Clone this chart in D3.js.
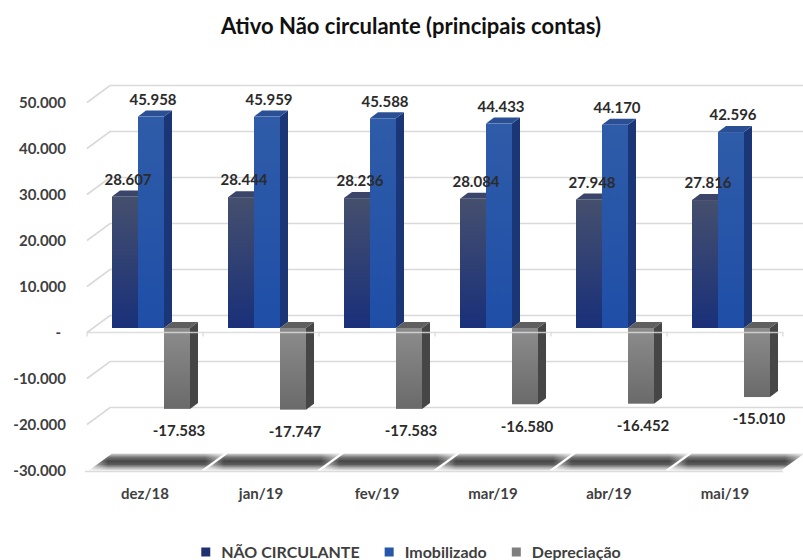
<!DOCTYPE html>
<html>
<head>
<meta charset="utf-8">
<script src="https://cdn.jsdelivr.net/npm/d3@7"></script>
<style>
  body { margin: 0; background: #fff; }
  svg { display: block; }
</style>
</head>
<body>
<div class="chart"></div>
<script>
// Dados
const categories = ["dez/18", "jan/19", "fev/19", "mar/19", "abr/19", "mai/19"];
const naoCirculante = [28607, 28444, 28236, 28084, 27948, 27816];
const imobilizado = [45958, 45959, 45588, 44433, 44170, 42596];
const depreciacao = [-17583, -17747, -17583, -16580, -16452, -15010];
const seriesNames = ["NÃO CIRCULANTE", "Imobilizado", "Depreciação"];
const yTicks = [50000, 40000, 30000, 20000, 10000, 0, -10000, -20000, -30000];

// Parâmetros
const width = 803;
const height = 560;
const font = "Lato, 'Open Sans', sans-serif";
const wall = { dx: 23, dy: 17 };        // parede do fundo -> borda da frente
const barShift = { dx: -16, dy: 12.5 }; // parede do fundo -> face frontal das barras
const barDepth = { dx: 8, dy: -6 };

const styles = [
  { top: "#3a4569", side: "#1b2752", g0: "#454f6d", g1: "#19307a", key: "#1f3170" },
  { top: "#2a4f95", side: "#1b3677", g0: "#2f5ca8", g1: "#1f4ea8", key: "#2556a8" },
  { top: "#5f5f5f", side: "#464646", g0: "#8c8c8c", g1: "#6a6a6a", key: "#7f7f7f" }
];

const locale = d3.formatLocale({ decimal: ",", thousands: ".", grouping: [3], currency: ["R$", ""], minus: "-" });
const fmt = locale.format(",.0f");

const table = categories.map((c, i) => ({
  cat: c,
  values: [naoCirculante[i], imobilizado[i], depreciacao[i]]
}));

const svg = d3.select(".chart")
  .append("svg")
  .attr("width", width)
  .attr("height", height)
  .style("font-family", font);

const y = d3.scaleLinear().domain([-30000, 50000]).range([453.5, 85.5]);
const x = d3.scaleBand().domain(categories).range([110, 806]);
const xs = d3.scaleBand().domain(seriesNames).range([18, 96]);
const step = x.step();

// gradientes
const defs = svg.append("defs");
styles.forEach((s, i) => {
  const g = defs.append("linearGradient").attr("id", "g" + i)
    .attr("x1", 0).attr("y1", 0).attr("x2", 0).attr("y2", 1);
  g.append("stop").attr("offset", "0%").attr("stop-color", s.g0);
  g.append("stop").attr("offset", "100%").attr("stop-color", s.g1);
});
const fg = defs.append("linearGradient").attr("id", "floor")
  .attr("x1", 0).attr("y1", 0).attr("x2", 0).attr("y2", 1);
[["0%", "#d8d8d8"], ["22%", "#767676"], ["45%", "#464646"], ["65%", "#5c5c5c"], ["85%", "#b4b4b4"], ["100%", "#e8e8e8"]]
  .forEach(d => fg.append("stop").attr("offset", d[0]).attr("stop-color", d[1]));
const fh = defs.append("linearGradient").attr("id", "floorH")
  .attr("x1", 0).attr("y1", 0).attr("x2", 1).attr("y2", 0);
[["0%", 0.7], ["14%", 0], ["86%", 0], ["100%", 0.6]]
  .forEach(d => fh.append("stop").attr("offset", d[0]).attr("stop-color", "#fff").attr("stop-opacity", d[1]));

// título
svg.append("text")
  .attr("x", 411)
  .attr("y", 34)
  .attr("text-anchor", "middle")
  .style("font-size", "22px")
  .style("font-weight", "bold")
  .style("fill", "#111")
  .text("Ativo Não circulante (principais contas)");

// linhas de grade
const x0 = x.range()[0];
svg.append("g")
  .selectAll("path")
  .data(yTicks.filter(t => t > -30000))
  .join("path")
    .attr("d", t => `M${x0 - wall.dx},${y(t) + wall.dy}L${x0},${y(t)}L${width},${y(t)}`)
    .attr("fill", "none")
    .attr("stroke", "#d9d9d9")
    .attr("stroke-width", 1.6);

// piso
const yb = y(-30000);
const floorPath = c => {
  const a = x(c) + 2, b = x(c) + step - 2;
  return `M${a},${yb}L${b},${yb}L${b - wall.dx},${yb + wall.dy}L${a - wall.dx},${yb + wall.dy}Z`;
};
svg.append("g").selectAll("path").data(categories).join("path")
  .attr("d", floorPath).attr("fill", "url(#floor)");
svg.append("g").selectAll("path").data(categories).join("path")
  .attr("d", floorPath).attr("fill", "url(#floorH)");
svg.append("path")
  .attr("d", `M${x0 - wall.dx - 2},${yb + wall.dy + 1}H${x.range()[1] - wall.dx}`)
  .attr("stroke", "#dcdcdc").attr("stroke-width", 1.5);

// barras
const bars = svg.append("g");
table.forEach(row => {
  row.values.forEach((v, si) => {
    const s = styles[si];
    const w = xs.bandwidth();
    const fx = x(row.cat) + barShift.dx + xs(seriesNames[si]);
    const y0 = y(0) + barShift.dy;
    const y1 = y(v) + barShift.dy;
    const top = Math.min(y0, y1), bot = Math.max(y0, y1);
    const g = bars.append("g");
    g.append("path")
      .attr("d", `M${fx + w},${top}L${fx + w + barDepth.dx},${top + barDepth.dy}L${fx + w + barDepth.dx},${bot + barDepth.dy}L${fx + w},${bot}Z`)
      .attr("fill", s.side);
    g.append("path")
      .attr("d", `M${fx},${top}L${fx + w},${top}L${fx + w + barDepth.dx},${top + barDepth.dy}L${fx + barDepth.dx},${top + barDepth.dy}Z`)
      .attr("fill", s.top);
    g.append("rect")
      .attr("x", fx).attr("y", top)
      .attr("width", w).attr("height", bot - top)
      .attr("fill", `url(#g${si})`);
  });
});

// linha do zero na frente (passa por cima das barras negativas)
const zf = y(0) + wall.dy;
svg.append("path")
  .attr("d", `M${x0 - wall.dx},${zf}H${x.range()[1] - wall.dx}`)
  .attr("stroke", "#d9d9d9").attr("stroke-width", 1.6).attr("stroke-opacity", 0.85);
svg.append("g")
  .selectAll("line")
  .data(d3.range(categories.length + 1))
  .join("line")
    .attr("x1", i => x0 - wall.dx + i * step)
    .attr("x2", i => x0 - wall.dx + i * step)
    .attr("y1", zf)
    .attr("y2", zf + 4)
    .attr("stroke", "#d0d0d0");

// rótulos de dados
const labels = svg.append("g")
  .attr("text-anchor", "middle")
  .style("font-size", "15px")
  .style("font-weight", "bold")
  .style("fill", "#2b2b2b");
table.forEach(row => {
  row.values.forEach((v, si) => {
    const w = xs.bandwidth();
    const fx = x(row.cat) + barShift.dx + xs(seriesNames[si]);
    const yv = y(v) + barShift.dy;
    labels.append("text")
      .attr("x", fx + w / 2 + (si === 0 ? 3 : 2))
      .attr("y", v >= 0 ? yv - 17 : yv + 22)
      .attr("dy", "0.35em")
      .text(fmt(v));
  });
});

// eixo y
svg.append("g")
  .attr("text-anchor", "end")
  .style("font-size", "15px")
  .style("font-weight", "bold")
  .style("fill", "#3f3f3f")
  .selectAll("text")
  .data(yTicks)
  .join("text")
    .attr("x", 66)
    .attr("y", t => y(t) + wall.dy)
    .attr("dy", "0.35em")
    .attr("dx", t => t === 0 ? -5 : 0)
    .text(t => t === 0 ? "-" : fmt(t));

// eixo x
svg.append("g")
  .attr("text-anchor", "middle")
  .style("font-size", "15px")
  .style("font-weight", "bold")
  .style("fill", "#3f3f3f")
  .selectAll("text")
  .data(categories)
  .join("text")
    .attr("x", c => x(c) - wall.dx + step / 2)
    .attr("y", 494)
    .attr("dy", "0.35em")
    .text(c => c);

// legenda
const legend = svg.append("g").style("font-size", "16px").style("font-weight", "bold").style("fill", "#3f3f3f");
let lx = 0;
seriesNames.forEach((name, i) => {
  const item = legend.append("g").attr("transform", `translate(${lx},0)`);
  item.append("rect").attr("x", 0).attr("y", -4.5).attr("width", 9).attr("height", 9).attr("fill", styles[i].key);
  const t = item.append("text").attr("x", 20).attr("dy", "0.35em").text(name);
  lx += 20 + t.node().getComputedTextLength() + 25;
});
lx -= 25;
legend.attr("transform", `translate(${411 - lx / 2},552)`);
</script>
</body>
</html>
